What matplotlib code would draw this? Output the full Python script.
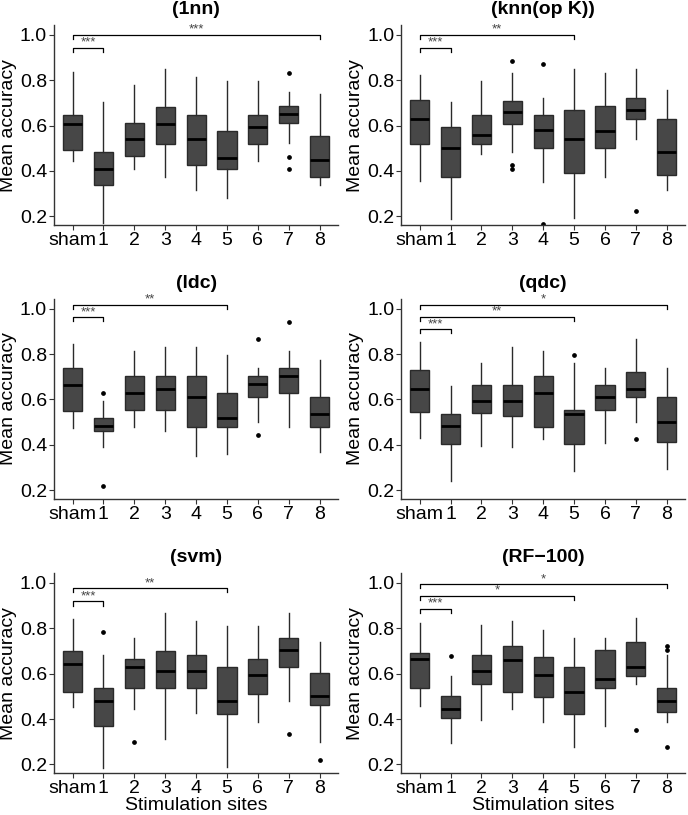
import numpy as np
import matplotlib
matplotlib.use("Agg")
from matplotlib import pyplot as plt

plt.rcParams.update({
    "font.family": ["Liberation Sans", "DejaVu Sans"],
    "font.size": 14,
})

sites = ['sham', '1', '2', '3', '4', '5', '6', '7', '8']

# per site: whisker low, q1, median, q3, whisker high
box_1nn = [[0.442, 0.492, 0.606, 0.648, 0.834],
           [0.171, 0.336, 0.409, 0.482, 0.702],
           [0.409, 0.467, 0.539, 0.612, 0.777],
           [0.374, 0.520, 0.609, 0.680, 0.851],
           [0.317, 0.426, 0.542, 0.648, 0.815],
           [0.280, 0.407, 0.455, 0.575, 0.797],
           [0.445, 0.520, 0.594, 0.648, 0.796],
           [0.521, 0.612, 0.650, 0.686, 0.750],
           [0.337, 0.372, 0.447, 0.556, 0.740]]
out_1nn = [[], [], [], [], [], [], [], [0.832, 0.461, 0.407], []]
sig_1nn = [('1', 0.943, '***'), ('8', 1.000, '***')]

box_knn = [[0.356, 0.520, 0.631, 0.711, 0.825],
           [0.188, 0.372, 0.502, 0.593, 0.702],
           [0.473, 0.520, 0.558, 0.648, 0.796],
           [0.483, 0.607, 0.661, 0.707, 0.832],
           [0.353, 0.502, 0.580, 0.648, 0.723],
           [0.191, 0.390, 0.540, 0.667, 0.850],
           [0.372, 0.502, 0.577, 0.686, 0.832],
           [0.539, 0.629, 0.669, 0.723, 0.850],
           [0.317, 0.380, 0.483, 0.631, 0.758]]
out_knn = [[], [], [], [0.886, 0.426, 0.407], [0.870, 0.168], [], [], [0.222], []]
sig_knn = [('1', 0.943, '***'), ('5', 1.000, '**')]

box_ldc = [[0.473, 0.551, 0.662, 0.740, 0.843],
           [0.389, 0.461, 0.482, 0.518, 0.593],
           [0.480, 0.555, 0.630, 0.703, 0.814],
           [0.461, 0.555, 0.648, 0.703, 0.831],
           [0.351, 0.480, 0.611, 0.703, 0.831],
           [0.358, 0.480, 0.518, 0.628, 0.794],
           [0.499, 0.611, 0.667, 0.703, 0.740],
           [0.480, 0.628, 0.703, 0.740, 0.814],
           [0.369, 0.480, 0.536, 0.611, 0.775]]
out_ldc = [[], [0.627, 0.219], [], [], [], [], [0.868, 0.442], [0.943], []]
sig_ldc = [('1', 0.962, '***'), ('5', 1.018, '**')]

box_qdc = [[0.430, 0.545, 0.648, 0.731, 0.852],
           [0.239, 0.405, 0.482, 0.536, 0.658],
           [0.395, 0.539, 0.593, 0.665, 0.759],
           [0.389, 0.527, 0.593, 0.665, 0.833],
           [0.426, 0.480, 0.628, 0.703, 0.814],
           [0.283, 0.405, 0.536, 0.555, 0.759],
           [0.407, 0.555, 0.611, 0.665, 0.740],
           [0.499, 0.611, 0.648, 0.722, 0.868],
           [0.295, 0.413, 0.499, 0.611, 0.740]]
out_qdc = [[], [], [], [], [], [0.794], [], [0.424], []]
sig_qdc = [('1', 0.909, '***'), ('5', 0.965, '**'), ('8', 1.018, '*')]

box_svm = [[0.453, 0.518, 0.643, 0.700, 0.841],
           [0.186, 0.370, 0.481, 0.537, 0.683],
           [0.444, 0.537, 0.629, 0.665, 0.757],
           [0.314, 0.537, 0.611, 0.699, 0.867],
           [0.425, 0.537, 0.611, 0.683, 0.830],
           [0.190, 0.424, 0.481, 0.629, 0.811],
           [0.389, 0.509, 0.592, 0.665, 0.811],
           [0.481, 0.629, 0.703, 0.757, 0.867],
           [0.297, 0.462, 0.500, 0.602, 0.738]]
out_svm = [[], [0.785], [0.300], [], [], [], [], [0.333], [0.219]]
sig_svm = [('1', 0.918, '***'), ('5', 0.977, '**')]

box_rf = [[0.458, 0.537, 0.665, 0.692, 0.823],
          [0.295, 0.406, 0.444, 0.500, 0.591],
          [0.396, 0.554, 0.610, 0.683, 0.813],
          [0.444, 0.518, 0.659, 0.722, 0.832],
          [0.387, 0.499, 0.592, 0.673, 0.794],
          [0.278, 0.424, 0.518, 0.629, 0.757],
          [0.370, 0.537, 0.575, 0.703, 0.757],
          [0.554, 0.591, 0.629, 0.740, 0.845],
          [0.387, 0.431, 0.481, 0.537, 0.681]]
out_rf = [[], [0.678], [], [], [], [], [], [0.351], [0.721, 0.705, 0.275]]
sig_rf = [('1', 0.887, '***'), ('5', 0.944, '*'), ('8', 0.994, '*')]

panels = [('(1nn)', box_1nn, out_1nn, sig_1nn),
          ('(knn(op K))', box_knn, out_knn, sig_knn),
          ('(ldc)', box_ldc, out_ldc, sig_ldc),
          ('(qdc)', box_qdc, out_qdc, sig_qdc),
          ('(svm)', box_svm, out_svm, sig_svm),
          ('(RF\u2212100)', box_rf, out_rf, sig_rf)]

fig = plt.figure(figsize=(6.88, 8.15), dpi=100)
lefts = [0.0785, 0.583]
bottoms = [0.724, 0.388, 0.0515]
fill = '#474747'
edge = '#2a2a2a'

for k, (title, box, outs, sig) in enumerate(panels):
    row, col = divmod(k, 2)
    ax = fig.add_axes([lefts[col], bottoms[row], 0.413, 0.245])
    stats = []
    for b, o in zip(box, outs):
        stats.append({'whislo': b[0], 'q1': b[1], 'med': b[2], 'q3': b[3],
                      'whishi': b[4], 'fliers': o})
    pos = np.arange(1, len(sites) + 1)
    ax.bxp(stats, positions=pos, widths=0.62, patch_artist=True,
           showcaps=False,
           boxprops=dict(facecolor=fill, edgecolor=edge, linewidth=1.0),
           whiskerprops=dict(color=edge, linewidth=1.0),
           medianprops=dict(color='black', linewidth=2.0),
           flierprops=dict(marker='o', markerfacecolor='black',
                           markeredgecolor='black', markersize=2.4))
    # significance brackets
    for target, yb, txt in sig:
        x0 = 1
        x1 = sites.index(target) + 1
        ax.plot([x0, x0, x1, x1], [yb - 0.018, yb, yb, yb - 0.018],
                color='black', linewidth=0.9)
        ax.text((x0 + x1) / 2.0, yb - 0.004, txt, ha='center', va='bottom',
                fontsize=9.5, color='#444444')
    ax.set_xlim(0.4, 9.6)
    ax.set_ylim(0.162, 1.042)
    ax.set_xticks(pos)
    ax.set_xticklabels(sites)
    ax.set_yticks([0.2, 0.4, 0.6, 0.8, 1.0])
    ax.set_yticklabels(['0.2', '0.4', '0.6', '0.8', '1.0'])
    ax.tick_params(axis='both', labelsize=14, length=3.5, width=0.8,
                   color='#333333', labelcolor='black', pad=1.5)
    for s in ['top', 'right']:
        ax.spines[s].set_visible(False)
    for s in ['left', 'bottom']:
        ax.spines[s].set_color('#333333')
        ax.spines[s].set_linewidth(1.0)
    ax.set_title(title, fontsize=14, fontweight='bold', pad=8)
    ax.set_ylabel('Mean accuracy', fontsize=14, labelpad=2)
    if row == 2:
        ax.set_xlabel('Stimulation sites', fontsize=14, labelpad=0)

fig.savefig('out.png', dpi=100)
